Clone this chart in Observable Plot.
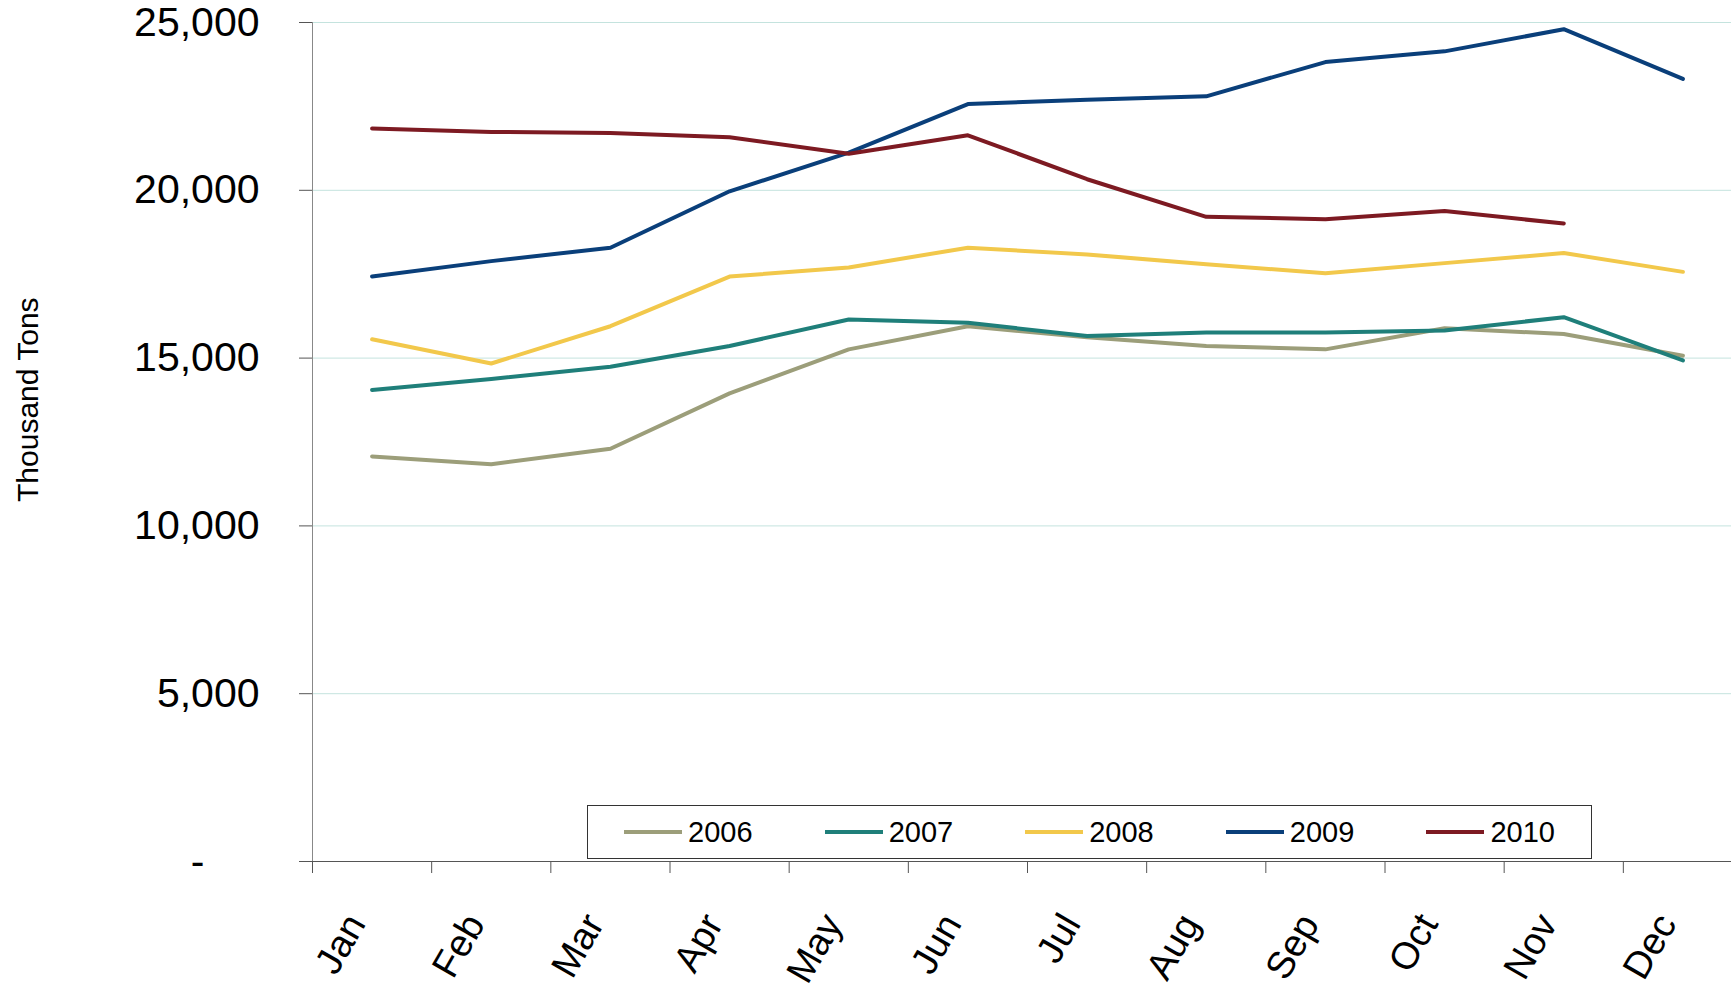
<!DOCTYPE html>
<html><head><meta charset="utf-8">
<script src="https://cdn.jsdelivr.net/npm/d3@7"></script>
<script src="https://cdn.jsdelivr.net/npm/@observablehq/plot@0.6"></script>
<style>
body{margin:0;background:#fff;font-family:"Liberation Sans",Arial,sans-serif}
#wrap{position:relative;width:1731px;height:983px}
#legend{position:absolute;left:587px;top:805px;width:1003px;height:52px;border:1px solid #333;background:#fff;display:flex;align-items:center;justify-content:space-around;font-size:29px}
#legend span{display:flex;align-items:center}
#legend i{display:inline-block;width:58px;height:4px;margin-right:6px}
</style></head><body>
<div id="wrap"><div id="chart"></div><div id="legend"></div></div>
<script>
const months = ["Jan","Feb","Mar","Apr","May","Jun","Jul","Aug","Sep","Oct","Nov","Dec"];
const years = ["2006","2007","2008","2009","2010"];
const colors = ["#9c9e7a","#1f7f7a","#f2c84b","#0a3f7a","#7d1a22"];
const v2006 = [12070,11840,12300,13950,15260,15950,15620,15360,15260,15890,15720,15070];
const v2007 = [14050,14380,14740,15360,16150,16050,15660,15760,15760,15820,16220,14930];
const v2008 = [15560,14840,15950,17430,17700,18290,18090,17800,17530,17830,18130,17570];
const v2009 = [17430,17890,18290,19970,21120,22570,22700,22800,23820,24140,24800,23320];
const v2010 = [21840,21740,21710,21580,21090,21640,20330,19210,19140,19380,19010];

const series = [v2006,v2007,v2008,v2009,v2010];
const rows = series.flatMap((vals, k) => vals.map((v, i) => ({year: years[k], i: i + 0.5, v})));
const monthRows = months.map((m, i) => ({m, i: i + 0.5}));

const chart = Plot.plot({
  width: 1731, height: 983,
  marginLeft: 312, marginTop: 22, marginBottom: 122, marginRight: 0,
  style: {fontFamily: "Liberation Sans, Arial, sans-serif", background: "#fff", overflow: "visible"},
  x: {domain: [0, 12], range: [312, 1742]},
  y: {domain: [0, 25000]},
  color: {domain: years, range: colors},
  marks: [
    Plot.gridY([5000,10000,15000,20000,25000], {stroke: "#c4e3de", strokeOpacity: 1}),
    Plot.axisY({ticks: [5000,10000,15000,20000,25000], tickFormat: d3.format(","),
      fontSize: 41, tickSize: 13, tickPadding: 40, label: null, stroke: "#555"}),
    Plot.axisY({ticks: [0], tickFormat: () => "-", fontSize: 41, tickSize: 13, tickPadding: 95, label: null, stroke: "#555"}),
    Plot.axisX({ticks: d3.range(13), tickFormat: () => "", tickSize: 12, label: null, stroke: "#555"}),
    Plot.text(monthRows, {x: "i", y: 0, text: "m", rotate: -60, textAnchor: "end", dy: 56, dx: -16, fontSize: 38}),
    Plot.ruleX([0], {stroke: "#888"}),
    Plot.ruleY([0], {stroke: "#555"}),
    Plot.text(["Thousand Tons"], {frameAnchor: "left", dx: -284, dy: 60, rotate: -90, fontSize: 30}),
    Plot.line(rows, {x: "i", y: "v", z: "year", stroke: "year", strokeWidth: 4, clip: true})
  ]
});
document.getElementById("chart").append(chart);
document.getElementById("legend").innerHTML = years.map((y, k) =>
  `<span><i style="background:${colors[k]}"></i>${y}</span>`).join("");
</script>
</body></html>
